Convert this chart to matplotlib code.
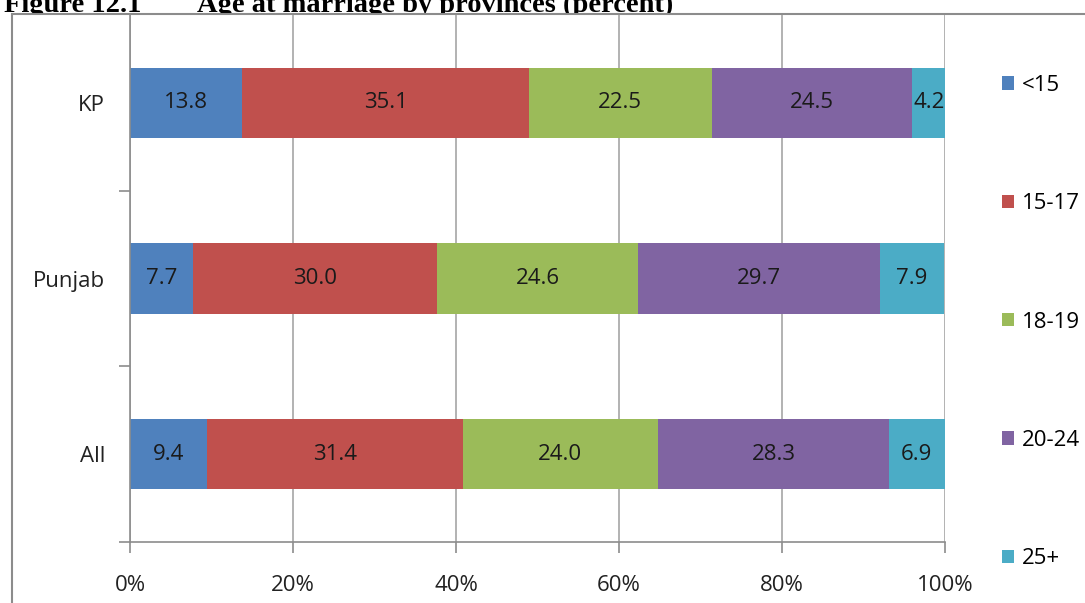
import numpy as np
from matplotlib import pyplot as plt
from matplotlib.patches import Rectangle
from matplotlib.ticker import FuncFormatter

# Age at marriage, percent of women in each province
provinces = ["KP", "Punjab", "All"]
age_groups = ["<15", "15-17", "18-19", "20-24", "25+"]
kp = [13.8, 35.1, 22.5, 24.5, 4.2]
punjab = [7.7, 30.0, 24.6, 29.7, 7.9]
total = [9.4, 31.4, 24.0, 28.3, 6.9]

colors = ["#4F81BD", "#C0504D", "#9BBB59", "#8064A2", "#4BACC6"]
grey = "#8C8C8C"
font = ["Open Sans", "DejaVu Sans"]

W, H = 1085, 603
fig = plt.figure(figsize=(W / 100, H / 100), dpi=100)

# figure caption, partly hidden under the chart frame
fig.text(4 / W, 1 - 12 / H, "Figure 12.1", family="Liberation Serif", weight="bold",
         size=20.5, va="baseline", zorder=-3)
fig.text(197 / W, 1 - 12 / H, "Age at marriage by provinces (percent)",
         family="Liberation Serif", weight="bold", size=20.5, va="baseline", zorder=-3)

# chart frame
frame_top = 1 - 14 / H
fig.patches.append(Rectangle((12 / W, -0.2), 1.2, frame_top + 0.2, transform=fig.transFigure,
                             facecolor="white", edgecolor=grey, lw=1.5, zorder=-2))

ax = fig.add_axes([130 / W, (H - 542) / H, 815 / W, 527 / H])
ax.set_facecolor("none")

data = np.array([kp, punjab, total])
ypos = np.arange(len(provinces))[::-1]
left = np.zeros(len(provinces))
handles = []
for i, grp in enumerate(age_groups):
    vals = data[:, i]
    b = ax.barh(ypos, vals, left=left, height=0.4, color=colors[i], label=grp, zorder=2)
    handles.append(b)
    for y, l, v in zip(ypos, left, vals):
        ax.text(l + v / 2, y, f"{v:.1f}", ha="center", va="center", size=16,
                family=font, color="#1A1A1A", zorder=3)
    left += vals

ax.set_xlim(0, 100)
ax.set_ylim(-0.5, 2.5)
ax.set_xticks(np.arange(0, 101, 20))
ax.xaxis.set_major_formatter(FuncFormatter(lambda x, p: f"{x:.0f}%"))
ax.set_yticks(ypos)
ax.set_yticklabels(provinces)
ax.set_yticks([-0.5, 0.5, 1.5], minor=True)
ax.grid(axis="x", color="#A6A6A6", lw=1.2, zorder=0)

for s in ["top", "right"]:
    ax.spines[s].set_visible(False)
for s in ["left", "bottom"]:
    ax.spines[s].set_color(grey)
    ax.spines[s].set_linewidth(1.2)

ax.tick_params(axis="x", length=8, width=1.2, color=grey, pad=16, labelsize=16)
ax.tick_params(axis="y", which="major", length=0, pad=18, labelsize=16)
ax.tick_params(axis="y", which="minor", length=8, width=1.2, color=grey)
for lab in ax.get_xticklabels() + ax.get_yticklabels():
    lab.set_family(font)
    lab.set_color("#222222")

fig.legend(handles=handles, loc="upper left", bbox_to_anchor=(993 / W, 1 - 66 / H),
           frameon=False, handlelength=0.55, handleheight=0.55, handletextpad=0.35,
           labelspacing=4.38, borderaxespad=0, prop={"family": font, "size": 16})

plt.savefig("out.png", dpi=100)
